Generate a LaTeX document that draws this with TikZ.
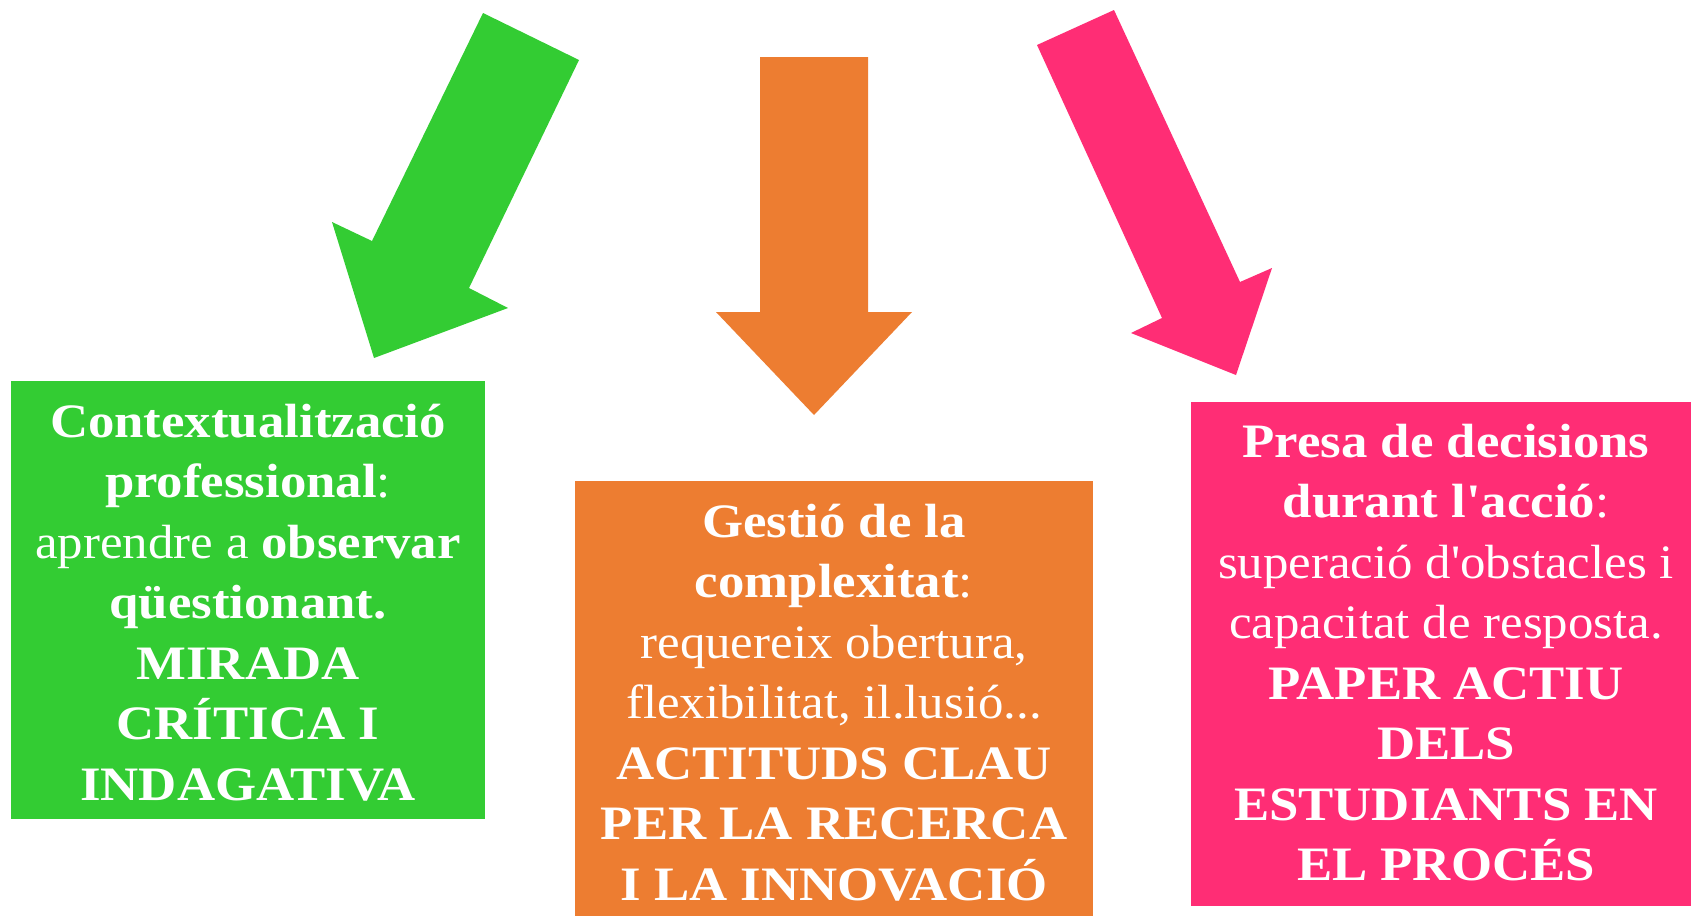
\documentclass[tikz,border=0pt]{standalone}
\usepackage{fontspec}
\setmainfont{Liberation Serif}
\newfontfamily\lite{Liberation Serif}[FakeStretch=1.06]
\newfontfamily\heavy{Liberation Serif Bold}[FakeStretch=1.1]
\newcommand{\hv}[1]{{\heavy #1}}
\definecolor{verd}{HTML}{33CC33}
\definecolor{taronja}{HTML}{ED7D31}
\definecolor{rosa}{HTML}{FF2D75}

\begin{document}
\begin{tikzpicture}[x=1pt, y=-1pt,
    caixa/.style={inner sep=0pt, outer sep=0pt},
    rotul/.style={anchor=north, inner sep=0pt, align=center, text=white,
        font=\fontsize{48}{60.5}\selectfont\lite}]
    \path[use as bounding box, fill=white] (0,0) rectangle (1691,916);

    \fill[verd] (483,13) -- (579,60) -- (469,288) -- (508,308) -- (374,358) -- (332,222) -- (372,241) -- cycle;
    \fill[taronja] (760,57) -- (868,57) -- (868,312) -- (912,312) -- (814,415) -- (716,312) -- (760,312) -- cycle;
    \fill[rosa] (1037,45) -- (1114,10) -- (1240,282) -- (1272,268) -- (1236,375) -- (1131,333) -- (1162,318) -- cycle;

    \node[caixa, fill=verd, minimum width=474pt, minimum height=438pt] (context) at (248,600) {};
    \node[caixa, fill=taronja, minimum width=518pt, minimum height=435pt] (gestio) at (834,698.5) {};
    \node[caixa, fill=rosa, minimum width=500pt, minimum height=504pt] (presa) at (1441,654) {};

    \node[rotul] (contexttext) at (248,387) {\rule{0pt}{50pt}\hv{Contextualització}\\
        \hv{professional}:\\
        aprendre a \hv{observar}\\
        \hv{qüestionant.}\\
        \hv{MIRADA}\\
        \hv{CRÍTICA I}\\
        \hv{INDAGATIVA}};
    \node[rotul] (gestiotext) at (834,487) {\rule{0pt}{50pt}\hv{Gestió de la}\\
        \hv{complexitat}:\\
        requereix obertura,\\
        flexibilitat, il.lusió...\\
        \hv{ACTITUDS CLAU}\\
        \hv{PER LA RECERCA}\\
        \hv{I LA INNOVACIÓ}};
    \node[rotul] (presatext) at (1446,407) {\rule{0pt}{50pt}\hv{Presa de decisions}\\
        \hv{durant l'acció}:\\
        superació d'obstacles i\\
        capacitat de resposta.\\
        \hv{PAPER ACTIU}\\
        \hv{DELS}\\
        \hv{ESTUDIANTS EN}\\
        \hv{EL PROCÉS}};
\end{tikzpicture}
\end{document}
